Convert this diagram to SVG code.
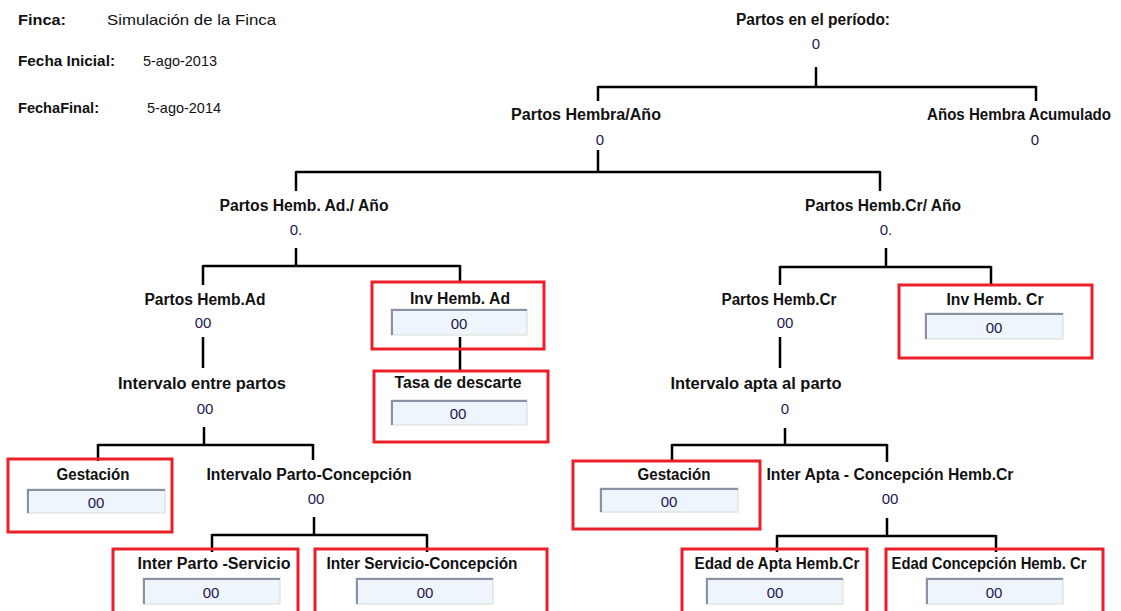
<svg xmlns="http://www.w3.org/2000/svg" width="1121" height="611" viewBox="0 0 1121 611">
<style>
.lbl{font-family:"Liberation Sans",Arial,sans-serif;font-weight:bold;font-size:16px;fill:#111;text-anchor:middle}
.val{font-family:"Liberation Sans",Arial,sans-serif;font-size:15px;fill:#1e1650;text-anchor:middle}
.hdb{font-family:"Liberation Sans",Arial,sans-serif;font-weight:bold;font-size:15px;fill:#111}
.hdr{font-family:"Liberation Sans",Arial,sans-serif;font-size:15px;fill:#111}
.red{fill:none;stroke:#e8202a;stroke-width:3}
.inp{fill:#eef5fd;stroke:#d8dccf;stroke-width:1}
.inpe{fill:none;stroke:#8c90a6;stroke-width:2}
.ln{fill:none;stroke:#000;stroke-width:2.5}
</style>
<rect width="1121" height="611" fill="#fff"/>
<g id="header">
<text class="hdb" x="18" y="25" font-size="17" textLength="48" lengthAdjust="spacingAndGlyphs">Finca:</text>
<text class="hdr" x="107" y="25" font-size="17" textLength="169" lengthAdjust="spacingAndGlyphs">Simulación de la Finca</text>
<text class="hdb" x="18" y="66" textLength="97" lengthAdjust="spacingAndGlyphs">Fecha Inicial:</text>
<text class="hdr" x="143" y="66" textLength="74" lengthAdjust="spacingAndGlyphs">5-ago-2013</text>
<text class="hdb" x="18" y="113" textLength="81" lengthAdjust="spacingAndGlyphs">FechaFinal:</text>
<text class="hdr" x="147" y="113" textLength="74" lengthAdjust="spacingAndGlyphs">5-ago-2014</text>
</g>
<g id="connectors">
<path class="ln" d="M816 67V87M598 87H1036M598 86V101M1036 86V101"/>
<path class="ln" d="M598 150V172M296 172H880M296 171V191M880 171V191"/>
<path class="ln" d="M296 248V266M203 266H460M203 265V285M460 265V282"/>
<path class="ln" d="M886 248V267M780 267H991M780 266V285M991 266V284"/>
<path class="ln" d="M203 337V368M460 337V371"/>
<path class="ln" d="M204 427V445M98 445H313M98 444V461M313 444V460"/>
<path class="ln" d="M314 517V535M212 535H427M212 534V552M427 534V552"/>
<path class="ln" d="M780 337V368"/>
<path class="ln" d="M785 428V445M672 445H887M672 444V461M887 444V462"/>
<path class="ln" d="M887 518V536M777 536H996M777 535V552M996 535V552"/>
</g>
<g id="n-partos-periodo">
<text class="lbl" x="813" y="25" textLength="154" lengthAdjust="spacingAndGlyphs">Partos en el período:</text>
<text class="val" x="816" y="49">0</text>
</g>
<g id="n-partos-hembra-ano">
<text class="lbl" x="586" y="120" textLength="150" lengthAdjust="spacingAndGlyphs">Partos Hembra/Año</text>
<text class="val" x="600" y="145">0</text>
</g>
<g id="n-anos-hembra">
<text class="lbl" x="1019" y="120" font-size="15.5" textLength="184" lengthAdjust="spacingAndGlyphs">Años Hembra Acumulado</text>
<text class="val" x="1035" y="145">0</text>
</g>
<g id="n-partos-ad-ano">
<text class="lbl" x="304" y="211" textLength="169" lengthAdjust="spacingAndGlyphs">Partos Hemb. Ad./ Año</text>
<text class="val" x="296" y="235">0.</text>
</g>
<g id="n-partos-cr-ano">
<text class="lbl" x="883" y="211" textLength="156" lengthAdjust="spacingAndGlyphs">Partos Hemb.Cr/ Año</text>
<text class="val" x="886" y="235">0.</text>
</g>
<g id="n-partos-ad">
<text class="lbl" x="205" y="305" textLength="121" lengthAdjust="spacingAndGlyphs">Partos Hemb.Ad</text>
<text class="val" x="203" y="328">00</text>
</g>
<g id="n-partos-cr">
<text class="lbl" x="779" y="305" textLength="115" lengthAdjust="spacingAndGlyphs">Partos Hemb.Cr</text>
<text class="val" x="785" y="328">00</text>
</g>
<g id="n-intervalo-partos">
<text class="lbl" x="202" y="389" textLength="168" lengthAdjust="spacingAndGlyphs">Intervalo entre partos</text>
<text class="val" x="205" y="414">00</text>
</g>
<g id="n-intervalo-apta">
<text class="lbl" x="756" y="389" textLength="171" lengthAdjust="spacingAndGlyphs">Intervalo apta al parto</text>
<text class="val" x="785" y="414">0</text>
</g>
<g id="n-intervalo-pc">
<text class="lbl" x="309" y="480" textLength="205" lengthAdjust="spacingAndGlyphs">Intervalo Parto-Concepción</text>
<text class="val" x="316" y="504">00</text>
</g>
<g id="n-inter-apta-conc">
<text class="lbl" x="890" y="480" textLength="247" lengthAdjust="spacingAndGlyphs">Inter Apta - Concepción Hemb.Cr</text>
<text class="val" x="890" y="504">00</text>
</g>
<g id="n-inv-ad">
<rect class="red" x="372" y="282" width="172" height="67"/>
<text class="lbl" x="460" y="304" textLength="100" lengthAdjust="spacingAndGlyphs">Inv Hemb. Ad</text>
<rect class="inp" x="391" y="309" width="136" height="26"/>
<path class="inpe" d="M392 335V310H527"/>
<text class="val" x="459" y="329">00</text>
</g>
<g id="n-tasa">
<rect class="red" x="374" y="371" width="174" height="71"/>
<text class="lbl" x="458" y="388" textLength="127" lengthAdjust="spacingAndGlyphs">Tasa de descarte</text>
<rect class="inp" x="391" y="400" width="136" height="25"/>
<path class="inpe" d="M392 425V401H527"/>
<text class="val" x="458" y="419">00</text>
</g>
<g id="n-gestacion-ad">
<rect class="red" x="8" y="459" width="164" height="73"/>
<text class="lbl" x="93" y="480" textLength="73" lengthAdjust="spacingAndGlyphs">Gestación</text>
<rect class="inp" x="27" y="489" width="138" height="24"/>
<path class="inpe" d="M28 513V490H165"/>
<text class="val" x="96" y="508">00</text>
</g>
<g id="n-inv-cr">
<rect class="red" x="899" y="285" width="193" height="73"/>
<text class="lbl" x="995" y="305" textLength="97" lengthAdjust="spacingAndGlyphs">Inv Hemb. Cr</text>
<rect class="inp" x="925" y="313" width="138" height="26"/>
<path class="inpe" d="M926 339V314H1063"/>
<text class="val" x="994" y="333">00</text>
</g>
<g id="n-gestacion-cr">
<rect class="red" x="573" y="461" width="187" height="68"/>
<text class="lbl" x="674" y="480" textLength="73" lengthAdjust="spacingAndGlyphs">Gestación</text>
<rect class="inp" x="600" y="488" width="138" height="24"/>
<path class="inpe" d="M601 512V489H738"/>
<text class="val" x="669" y="507">00</text>
</g>
<g id="n-inter-parto-servicio">
<rect class="red" x="113" y="549" width="185" height="70"/>
<text class="lbl" x="214" y="569" textLength="153" lengthAdjust="spacingAndGlyphs">Inter Parto -Servicio</text>
<rect class="inp" x="143" y="578" width="137" height="26"/>
<path class="inpe" d="M144 604V579H280"/>
<text class="val" x="211" y="598">00</text>
</g>
<g id="n-inter-servicio-concepcion">
<rect class="red" x="315" y="549" width="232" height="70"/>
<text class="lbl" x="422" y="569" textLength="191" lengthAdjust="spacingAndGlyphs">Inter Servicio-Concepción</text>
<rect class="inp" x="356" y="578" width="137" height="26"/>
<path class="inpe" d="M357 604V579H493"/>
<text class="val" x="425" y="598">00</text>
</g>
<g id="n-edad-apta">
<rect class="red" x="682" y="549" width="185" height="70"/>
<text class="lbl" x="777" y="569" textLength="165" lengthAdjust="spacingAndGlyphs">Edad de Apta Hemb.Cr</text>
<rect class="inp" x="706" y="578" width="137" height="26"/>
<path class="inpe" d="M707 604V579H843"/>
<text class="val" x="775" y="598">00</text>
</g>
<g id="n-edad-concepcion">
<rect class="red" x="886" y="549" width="217" height="70"/>
<text class="lbl" x="989" y="569" textLength="195" lengthAdjust="spacingAndGlyphs">Edad Concepción Hemb. Cr</text>
<rect class="inp" x="926" y="578" width="137" height="26"/>
<path class="inpe" d="M927 604V579H1063"/>
<text class="val" x="994" y="598">00</text>
</g>
</svg>
